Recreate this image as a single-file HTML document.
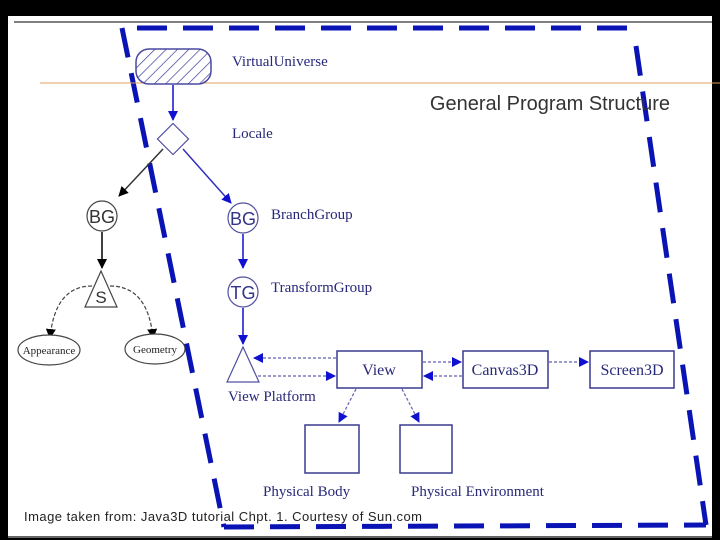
<!DOCTYPE html>
<html><head><meta charset="utf-8"><style>
html,body{margin:0;padding:0;background:#000;width:720px;height:540px;overflow:hidden}
svg{display:block}
</style></head><body>
<svg width="720" height="540" viewBox="0 0 720 540" xmlns="http://www.w3.org/2000/svg">
<defs>
<pattern id="h" width="8" height="8" patternUnits="userSpaceOnUse" patternTransform="rotate(45)">
<rect width="8" height="8" fill="#fff"/><line x1="0" y1="0" x2="0" y2="8" stroke="#4848a0" stroke-width="1.5"/></pattern>
<marker id="ab" markerWidth="10" markerHeight="10" refX="9" refY="5" orient="auto" markerUnits="userSpaceOnUse"><path d="M0,0 L10,5 L0,10z" fill="#1010d0"/></marker>
<marker id="ak" markerWidth="10" markerHeight="10" refX="9" refY="5" orient="auto" markerUnits="userSpaceOnUse"><path d="M0,0 L10,5 L0,10z" fill="#000"/></marker>
</defs>
<rect x="8" y="16" width="704" height="520" fill="#fff"/>
<line x1="14" y1="22" x2="712" y2="22" stroke="#555" stroke-width="1.5"/>
<line x1="8" y1="537" x2="712" y2="537" stroke="#666" stroke-width="2"/>
<g stroke="#0a14b4" stroke-width="5" fill="none" stroke-dasharray="30,16">
<line x1="137" y1="28" x2="635" y2="28"/>
<line x1="122" y1="28" x2="224" y2="527"/>
<line x1="636" y1="46" x2="706" y2="525"/>
<line x1="224" y1="527" x2="706" y2="525"/>
</g>
<line x1="40" y1="83" x2="720" y2="83" stroke="#e0a060" stroke-width="1"/>
<text x="670" y="110" text-anchor="end" font-family="Liberation Sans, sans-serif" font-size="20" fill="#333">General Program Structure</text>
<rect x="136" y="49" width="75" height="35" rx="13" fill="url(#h)" stroke="#4848a0" stroke-width="1.5"/>
<g font-family="Liberation Serif, serif" fill="#28287a" font-size="15">
<text x="232" y="66">VirtualUniverse</text>
<text x="232" y="138">Locale</text>
<text x="271" y="219">BranchGroup</text>
<text x="271" y="292">TransformGroup</text>
<text x="228" y="401">View Platform</text>
<text x="263" y="496">Physical Body</text>
<text x="411" y="496">Physical Environment</text>
</g>
<line x1="173" y1="85" x2="173" y2="120" stroke="#1010d0" stroke-width="1.5" marker-end="url(#ab)"/>
<rect x="162" y="128" width="22" height="22" transform="rotate(45 173 139)" fill="#fff" stroke="#5050a0" stroke-width="1.2"/>
<line x1="163" y1="149" x2="119" y2="196" stroke="#333" stroke-width="1.5" marker-end="url(#ak)"/>
<line x1="183" y1="149" x2="231" y2="203" stroke="#3030c0" stroke-width="1.5" marker-end="url(#ab)"/>
<circle cx="102" cy="216" r="15" fill="#fff" stroke="#444" stroke-width="1.2"/>
<text x="102" y="223" text-anchor="middle" font-family="Liberation Sans, sans-serif" font-size="18" fill="#333">BG</text>
<line x1="102" y1="232" x2="102" y2="268" stroke="#000" stroke-width="1.5" marker-end="url(#ak)"/>
<path d="M101,271 L117,307 L85,307z" fill="#fff" stroke="#444" stroke-width="1.2"/>
<text x="101" y="303" text-anchor="middle" font-family="Liberation Sans, sans-serif" font-size="17" fill="#333">S</text>
<path d="M92,286 Q55,286 50,338" stroke="#444" stroke-width="1.2" fill="none" stroke-dasharray="4,2" marker-end="url(#ak)"/>
<path d="M110,286 Q148,286 153,338" stroke="#444" stroke-width="1.2" fill="none" stroke-dasharray="4,2" marker-end="url(#ak)"/>
<ellipse cx="49" cy="350" rx="31" ry="15" fill="#fff" stroke="#444" stroke-width="1.2"/>
<ellipse cx="155" cy="349" rx="30" ry="15" fill="#fff" stroke="#444" stroke-width="1.2"/>
<g font-family="Liberation Serif, serif" font-size="11" fill="#222" text-anchor="middle">
<text x="49" y="354">Appearance</text><text x="155" y="353">Geometry</text></g>
<circle cx="243" cy="218" r="15" fill="#fff" stroke="#5050a0" stroke-width="1.2"/>
<text x="243" y="225" text-anchor="middle" font-family="Liberation Sans, sans-serif" font-size="18" fill="#33338a">BG</text>
<line x1="243" y1="234" x2="243" y2="268" stroke="#1010d0" stroke-width="1.5" marker-end="url(#ab)"/>
<circle cx="243" cy="292" r="15" fill="#fff" stroke="#5050a0" stroke-width="1.2"/>
<text x="243" y="299" text-anchor="middle" font-family="Liberation Sans, sans-serif" font-size="18" fill="#33338a">TG</text>
<line x1="243" y1="308" x2="243" y2="344" stroke="#1010d0" stroke-width="1.5" marker-end="url(#ab)"/>
<path d="M243,347 L259,382 L227,382z" fill="#fff" stroke="#5050a0" stroke-width="1.2"/>
<g fill="#fff" stroke="#3a3a90" stroke-width="1.5">
<rect x="337" y="351" width="85" height="37"/>
<rect x="463" y="351" width="85" height="37"/>
<rect x="590" y="351" width="84" height="37"/>
<rect x="305" y="425" width="54" height="48"/>
<rect x="400" y="425" width="52" height="48"/>
</g>
<g font-family="Liberation Serif, serif" font-size="16" fill="#28287a" text-anchor="middle">
<text x="379" y="375">View</text><text x="505" y="375">Canvas3D</text><text x="632" y="375">Screen3D</text></g>
<g stroke="#6060b0" stroke-width="1.2" stroke-dasharray="3,2" fill="none">
<line x1="336" y1="358" x2="254" y2="358" marker-end="url(#ab)"/>
<line x1="258" y1="376" x2="335" y2="376" marker-end="url(#ab)"/>
<line x1="423" y1="362" x2="461" y2="362" marker-end="url(#ab)"/>
<line x1="462" y1="376" x2="424" y2="376" marker-end="url(#ab)"/>
<line x1="549" y1="362" x2="588" y2="362" marker-end="url(#ab)"/>
<line x1="356" y1="389" x2="339" y2="422" marker-end="url(#ab)"/>
<line x1="402" y1="389" x2="419" y2="422" marker-end="url(#ab)"/>
</g>
<text x="24" y="521" font-family="Liberation Sans, sans-serif" font-size="13" fill="#222" textLength="398" lengthAdjust="spacing">Image taken from: Java3D tutorial Chpt. 1. Courtesy of Sun.com</text>
</svg>
</body></html>
